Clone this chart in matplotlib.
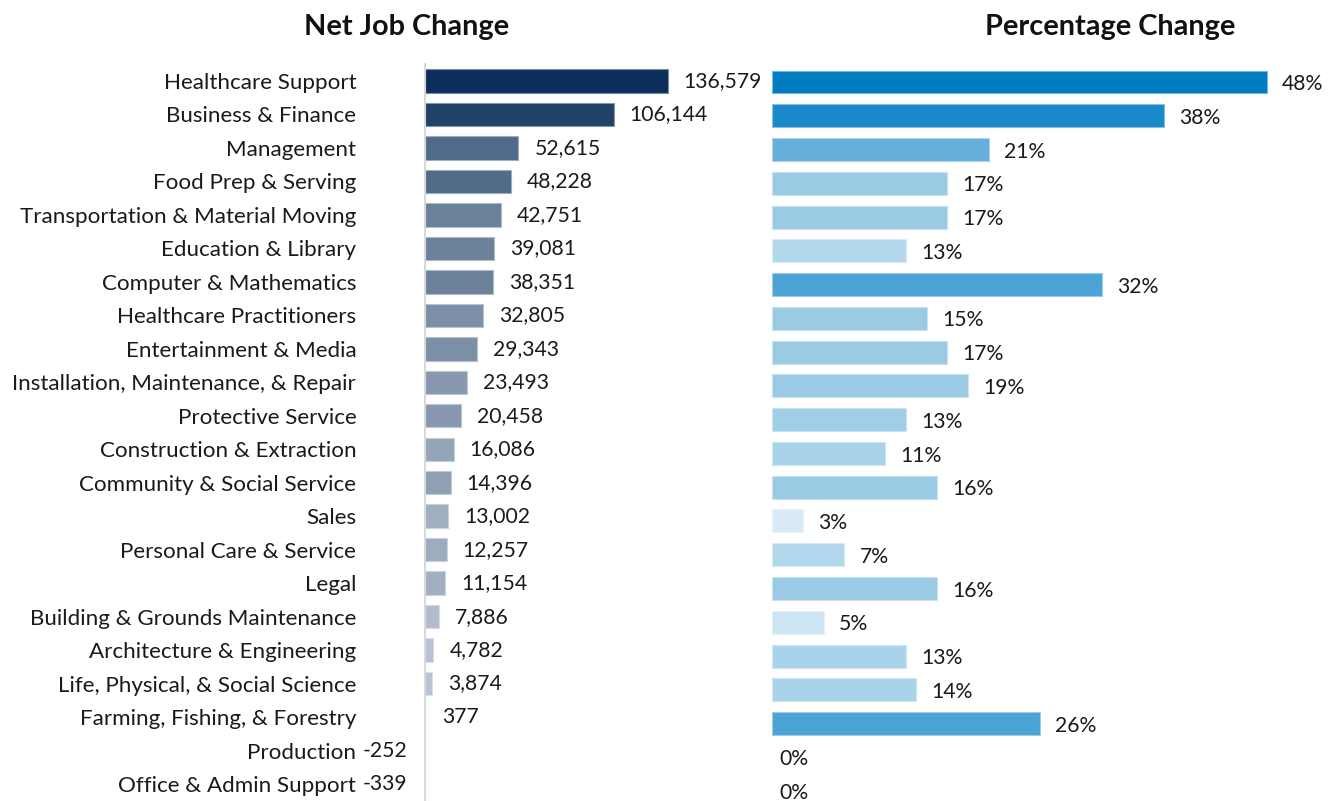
import matplotlib
matplotlib.use("Agg")
import matplotlib.pyplot as plt
from matplotlib.colors import to_rgb
from matplotlib.transforms import offset_copy

plt.rcParams["font.family"] = ["Lato", "DejaVu Sans"]

# Occupation groups, ordered as listed
categories = [
    "Healthcare Support", "Business & Finance", "Management",
    "Food Prep & Serving", "Transportation & Material Moving",
    "Education & Library", "Computer & Mathematics",
    "Healthcare Practitioners", "Entertainment & Media",
    "Installation, Maintenance, & Repair", "Protective Service",
    "Construction & Extraction", "Community & Social Service", "Sales",
    "Personal Care & Service", "Legal", "Building & Grounds Maintenance",
    "Architecture & Engineering", "Life, Physical, & Social Science",
    "Farming, Fishing, & Forestry", "Production", "Office & Admin Support",
]
net_change = [
    136579, 106144, 52615, 48228, 42751, 39081, 38351, 32805, 29343,
    23493, 20458, 16086, 14396, 13002, 12257, 11154, 7886, 4782, 3874,
    377, -252, -339,
]
pct_change = [
    48, 38, 21, 17, 17, 13, 32, 15, 17, 19, 13, 11, 16, 3, 7, 16, 5,
    13, 14, 26, 0, 0,
]

# Bar fills
net_colors = [
    "#0B2E5A", "#204267", "#506B89", "#516B88", "#6A8299", "#6C829A",
    "#6A8199", "#7B8FA7", "#7B8FA7", "#8898AF", "#8898AF", "#95A5B9",
    "#8FA0B5", "#A1AFC1", "#9DACBE", "#A1AFC1", "#B2BDCC", "#B8C3D1",
    "#B8C3D1", "#C7D0DB", "#C7D0DB", "#C7D0DB",
]
pct_colors = [
    "#007CC2", "#1B8ACA", "#67AFDB", "#9BCAE5", "#9BCAE5", "#B3D8EC",
    "#4BA3D6", "#9BCAE5", "#9BCAE5", "#9BCAE5", "#A1CEE7", "#A8D3EA",
    "#9BCAE5", "#D7EAF5", "#B2D7EC", "#9BCAE5", "#CDE5F2", "#A8D3EA",
    "#A8D3EA", "#4BA3D6", "#CDE5F2", "#CDE5F2",
]


def lighten(c, f=0.45):
    r, g, b = to_rgb(c)
    return (r + (1 - r) * f, g + (1 - g) * f, b + (1 - b) * f)


W, H = 1336, 801
fig = plt.figure(figsize=(W / 100, H / 100), dpi=100)

n = len(categories)
ypos = list(range(n))
TXT = "#1a1a1a"

# Left panel: net job change
l_top, l_bot = 64.25, 800.75
lx0, lx1 = 425, 760
axL = fig.add_axes([lx0 / W, (H - l_bot) / H, (lx1 - lx0) / W,
                    (l_bot - l_top) / H])
px_per_job = 0.001777
axL.set_xlim(0, (lx1 - lx0) / px_per_job)
axL.set_ylim(n - 0.5, -0.5)
axL.barh(ypos, net_change, height=0.7, color=net_colors,
         edgecolor=[lighten(c) for c in net_colors],
         linewidth=[0.8 if abs(v) > 2000 else 0 for v in net_change])
axL.set_yticks(ypos)
axL.set_yticklabels(categories, fontsize=16.1, color=TXT)
axL.tick_params(axis="y", length=0, pad=49.5)
axL.set_xticks([])
for s in ("top", "right", "bottom"):
    axL.spines[s].set_visible(False)
axL.spines["left"].set_color("#D9D9D9")
axL.spines["left"].set_linewidth(1.5)
axL.spines["left"].set_zorder(3)

pos_off = offset_copy(axL.transData, fig=fig, x=11.5, y=0, units="points")
neg_off = offset_copy(axL.transData, fig=fig, x=-13, y=0, units="points")
for y, v in zip(ypos, net_change):
    if v >= 0:
        axL.text(v, y, f"{v:,}", transform=pos_off, ha="left", va="center",
                 fontsize=15.2, color=TXT)
    else:
        axL.text(0, y, f"{v:,}", transform=neg_off, ha="right", va="center",
                 fontsize=15.2, color=TXT)
fig.text(407 / W, 1 - 27 / H, "Net Job Change", ha="center", va="center",
         fontsize=20.8, fontweight="bold", color="#111111")

# Right panel: percentage change (rows slightly taller, runs past the bottom)
r_top, r_bot = 65.1, 808.0
rx0, rx1 = 772, 1336
axR = fig.add_axes([rx0 / W, (H - r_bot) / H, (rx1 - rx0) / W,
                    (r_bot - r_top) / H])
px_per_pct = 10.31
axR.set_xlim(0, (rx1 - rx0) / px_per_pct)
axR.set_ylim(n - 0.5, -0.5)
axR.barh(ypos, pct_change, height=0.68, color=pct_colors,
         edgecolor=[lighten(c) for c in pct_colors],
         linewidth=[0.8 if v else 0 for v in pct_change])
axR.set_axis_off()
r_off = offset_copy(axR.transData, fig=fig, x=11, y=-1.5, units="points")
r_zero_off = offset_copy(axR.transData, fig=fig, x=5.5, y=-1.5, units="points")
for y, v in zip(ypos, pct_change):
    axR.text(v, y, f"{v:.0f}%", transform=r_off if v else r_zero_off,
             ha="left", va="center", fontsize=15.2, color=TXT)
fig.text(1110 / W, 1 - 27 / H, "Percentage Change", ha="center", va="center",
         fontsize=20.8, fontweight="bold", color="#111111")

fig.savefig("out.png", dpi=100, facecolor="white")
